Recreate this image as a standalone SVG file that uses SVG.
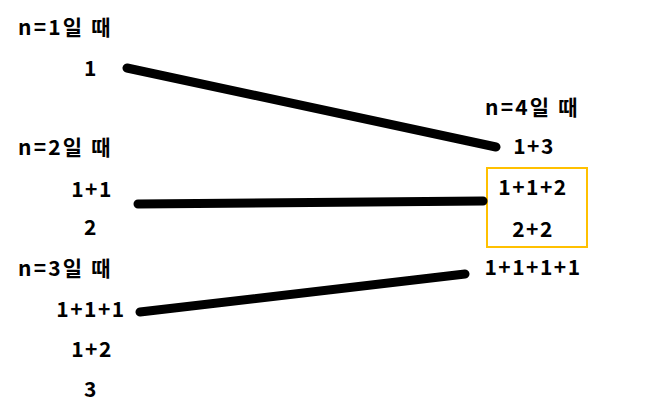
<svg xmlns="http://www.w3.org/2000/svg" width="670" height="411" viewBox="0 0 670 411">
<style>
text{font-family:"Noto Sans CJK KR","Noto Sans",sans-serif;font-weight:bold;font-size:21px;letter-spacing:1.5px;fill:#000}
.h{letter-spacing:2.2px}
.c{text-anchor:middle}
.ln{stroke:#000;stroke-width:9;stroke-linecap:round;fill:none}
</style>
<rect width="670" height="411" fill="#fff"/>
<g id="n1">
<text class="h" x="18" y="35">n=1일 때</text>
<text class="c" x="91" y="76">1</text>
</g>
<g id="n2">
<text class="h" x="18" y="155">n=2일 때</text>
<text class="c" x="92" y="197">1+1</text>
<text class="c" x="91" y="235">2</text>
</g>
<g id="n3">
<text class="h" x="18" y="276">n=3일 때</text>
<text class="c" x="91" y="317">1+1+1</text>
<text class="c" x="92" y="357">1+2</text>
<text class="c" x="91" y="397">3</text>
</g>
<g id="n4">
<text class="h" x="485" y="115">n=4일 때</text>
<text class="c" x="534" y="154">1+3</text>
<rect x="487" y="168" width="100" height="79" fill="none" stroke="#FFC000" stroke-width="2"/>
<text class="c" x="533" y="195">1+1+2</text>
<text class="c" x="533" y="237">2+2</text>
<text class="c" x="533" y="275">1+1+1+1</text>
</g>
<g id="connectors">
<line class="ln" x1="127" y1="68" x2="496" y2="147"/>
<line class="ln" x1="138" y1="204" x2="483" y2="201"/>
<line class="ln" x1="140" y1="312" x2="465" y2="274"/>
</g>
</svg>
